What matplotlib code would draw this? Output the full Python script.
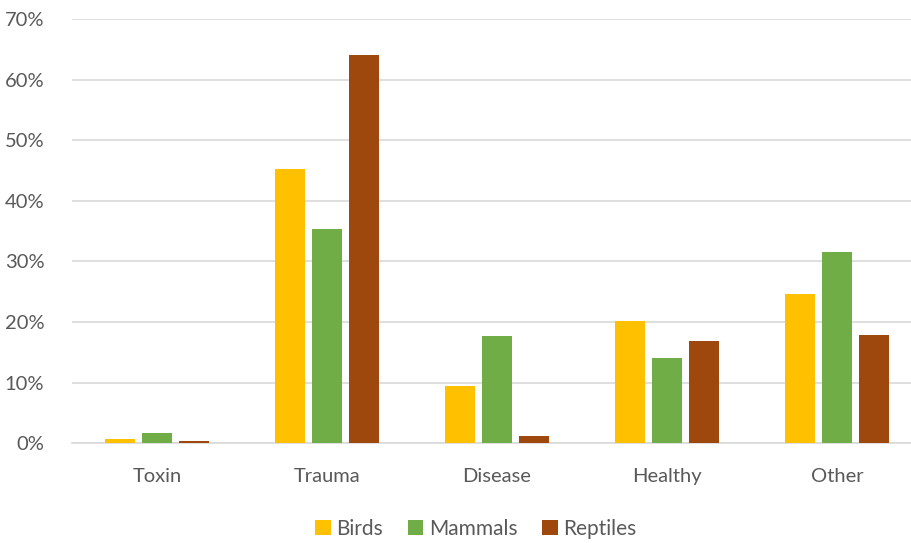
import numpy as np
import matplotlib.pyplot as plt
from matplotlib.ticker import PercentFormatter

categories = ["Toxin", "Trauma", "Disease", "Healthy", "Other"]
birds = [0.7, 45.2, 9.4, 20.1, 24.6]
mammals = [1.6, 35.3, 17.7, 14.1, 31.5]
reptiles = [0.3, 64.0, 1.2, 16.8, 17.9]

series = [("Birds", birds, "#FFC000"),
          ("Mammals", mammals, "#70AD47"),
          ("Reptiles", reptiles, "#9E480E")]

plt.rcParams["font.family"] = ["Lato", "DejaVu Sans"]

fig = plt.figure(figsize=(9.12, 5.43), dpi=100)
ax = fig.add_axes([0.079, 0.184, 0.932, 0.781])

x = np.arange(len(categories))
width = 0.176
step = 0.218
for i, (name, vals, color) in enumerate(series):
    ax.bar(x + (i - 1) * step, vals, width, color=color, label=name, zorder=3)

ax.set_xlim(-0.5, len(categories) - 0.5)
ax.set_ylim(0, 70)
ax.set_yticks(np.arange(0, 71, 10))
ax.yaxis.set_major_formatter(PercentFormatter(decimals=0))
ax.set_xticks(x)
ax.set_xticklabels(categories)

ax.grid(axis="y", color="#D9D9D9", linewidth=1.2, zorder=0)
for s in ["top", "right", "left"]:
    ax.spines[s].set_visible(False)
ax.spines["bottom"].set_color("#D9D9D9")
ax.spines["bottom"].set_linewidth(1.2)
ax.tick_params(axis="both", length=0, labelsize=14.5, colors="#595959")
ax.tick_params(axis="y", pad=20)
ax.tick_params(axis="x", pad=18)

ax.legend(loc="upper center", bbox_to_anchor=(0.475, -0.135), ncol=3, frameon=False,
          fontsize=15, handlelength=0.75, handleheight=0.75, handletextpad=0.25,
          columnspacing=1.2, labelcolor="#595959")

fig.savefig("out.png", dpi=100)
